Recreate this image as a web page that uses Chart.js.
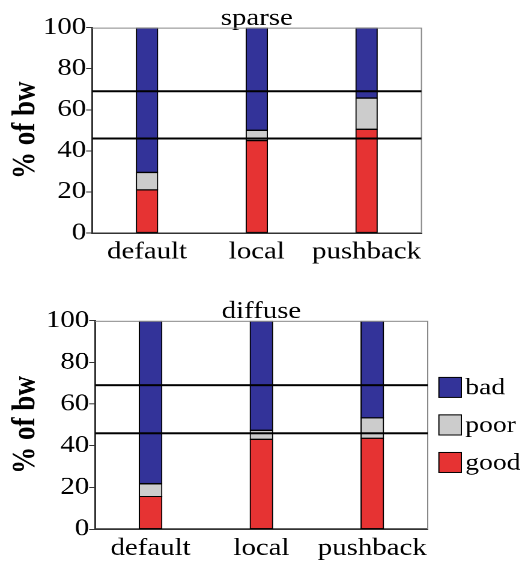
<!DOCTYPE html>
<html><head><meta charset="utf-8">
<script src="https://cdn.jsdelivr.net/npm/chart.js@4"></script>
<style>
html,body{margin:0;padding:0;background:#fff;overflow:hidden;width:525px;height:561px;position:relative}
.wrap{position:absolute;left:0;width:437.5px;transform:scaleX(1.2);transform-origin:0 0}
#w1{top:0;height:275px}
#w2{top:293.4px;height:277.3px}
</style></head><body>
<div class="wrap" id="w1"><canvas id="c1"></canvas></div>
<div class="wrap" id="w2"><canvas id="c2"></canvas></div>
<script>
const categories = ['default', 'local', 'pushback'];
const seriesNames = ['good', 'poor', 'bad'];
const sparseGood = [21, 45, 50.5];
const sparsePoor = [8.5, 5, 15.2];
const sparseBad = [70.5, 50, 34.3];
const diffuseGood = [15.7, 43.1, 43.6];
const diffusePoor = [6.1, 4.3, 9.8];
const diffuseBad = [78.2, 52.6, 46.6];
const thresholds = [69, 46];
const yLabelTicks = [0, 20, 40, 60, 80, 100];
const colors = ['#e63333', '#cccccc', '#333399'];

const FONT = "'Liberation Serif', 'Times New Roman', serif";

const framePlugin = {
  id: 'frameAndThresholds',
  afterDatasetsDraw(chart) {
    const {ctx, chartArea: a, scales: {y}} = chart;
    ctx.save();
    ctx.strokeStyle = '#888';
    ctx.lineWidth = 1;
    ctx.beginPath();
    ctx.moveTo(a.left, a.top + 0.5);
    ctx.lineTo(a.right, a.top + 0.5);
    ctx.moveTo(a.right, a.top);
    ctx.lineTo(a.right, a.bottom);
    ctx.stroke();
    ctx.strokeStyle = '#000';
    ctx.lineWidth = 2;
    thresholds.forEach(t => {
      const py = y.getPixelForValue(t);
      ctx.beginPath();
      ctx.moveTo(a.left, py);
      ctx.lineTo(a.right, py);
      ctx.stroke();
    });
    ctx.restore();
  }
};

const legendPlugin = {
  id: 'sideLegend',
  afterDraw(chart) {
    const {ctx, chartArea: a} = chart;
    const ds = chart.data.datasets.slice().reverse();
    const cy = (a.top + a.bottom) / 2;
    const step = 37.5;
    ctx.save();
    ctx.font = '23px ' + FONT;
    ctx.textBaseline = 'middle';
    ctx.textAlign = 'left';
    ds.forEach((d, i) => {
      const yc = cy + (i - 1) * step;
      const bx = a.right + 9.3;
      ctx.fillStyle = d.backgroundColor;
      ctx.fillRect(bx, yc - 10, 18.7, 20);
      ctx.strokeStyle = '#000';
      ctx.lineWidth = 1;
      ctx.strokeRect(bx, yc - 10, 18.7, 20);
      ctx.fillStyle = '#000';
      ctx.fillText(d.label, bx + 22, yc + 1);
    });
    ctx.restore();
  }
};

function makeChart(id, title, good, poor, bad, o) {
  const values = [good, poor, bad];
  return new Chart(document.getElementById(id), {
    type: 'bar',
    data: {
      labels: categories,
      datasets: seriesNames.map((n, i) => ({
        label: n,
        data: values[i],
        backgroundColor: colors[i],
        borderColor: '#000',
        borderWidth: 1,
        borderSkipped: false,
        barThickness: o.bar
      }))
    },
    options: {
      responsive: true,
      maintainAspectRatio: false,
      animation: false,
      devicePixelRatio: 2,
      layout: {padding: {left: 0, right: o.padRight, top: 0, bottom: 0}},
      plugins: {
        legend: {display: false},
        tooltip: {enabled: false},
        title: {
          display: true, text: title, color: '#000', fullSize: false,
          font: {family: FONT, size: 24, weight: 'normal', lineHeight: 1.15},
          padding: {top: 5, bottom: -5}
        }
      },
      scales: {
        x: {
          stacked: true,
          grid: {display: false},
          border: {display: true, color: '#333', width: 1.5},
          ticks: {color: '#000', font: {family: FONT, size: 24}, padding: -3, maxRotation: 0, autoSkip: false},
          afterFit(s) { s.height = 42; }
        },
        y: {
          stacked: true, min: 0, max: 100,
          grid: {
            display: true, drawOnChartArea: false, drawTicks: true,
            tickLength: 5, tickColor: '#333', tickWidth: 1,
            tickBorderDash: (c) => (c.tick && yLabelTicks.includes(c.tick.value)) ? [] : [2.5, 10]
          },
          border: {display: true, color: '#333', width: 1.5},
          ticks: {
            stepSize: 10, color: '#000', padding: 0,
            font: {family: FONT, size: 24},
            callback: (v) => yLabelTicks.includes(v) ? String(v) : ''
          },
          title: {
            display: true, text: '% of bw', color: '#000',
            font: {family: FONT, size: 27, weight: 'bold', lineHeight: 1},
            padding: {top: 8, bottom: 0}
          },
          afterFit(s) { s.width = o.yWidth; }
        }
      }
    },
    plugins: o.legend ? [framePlugin, legendPlugin] : [framePlugin]
  });
}

makeChart('c1', 'sparse', sparseGood, sparsePoor, sparseBad, {yWidth: 76.7, padRight: 86.7, bar: 18, legend: false});
makeChart('c2', 'diffuse', diffuseGood, diffusePoor, diffuseBad, {yWidth: 79.2, padRight: 81.5, bar: 19, legend: true});
</script>
</body></html>
